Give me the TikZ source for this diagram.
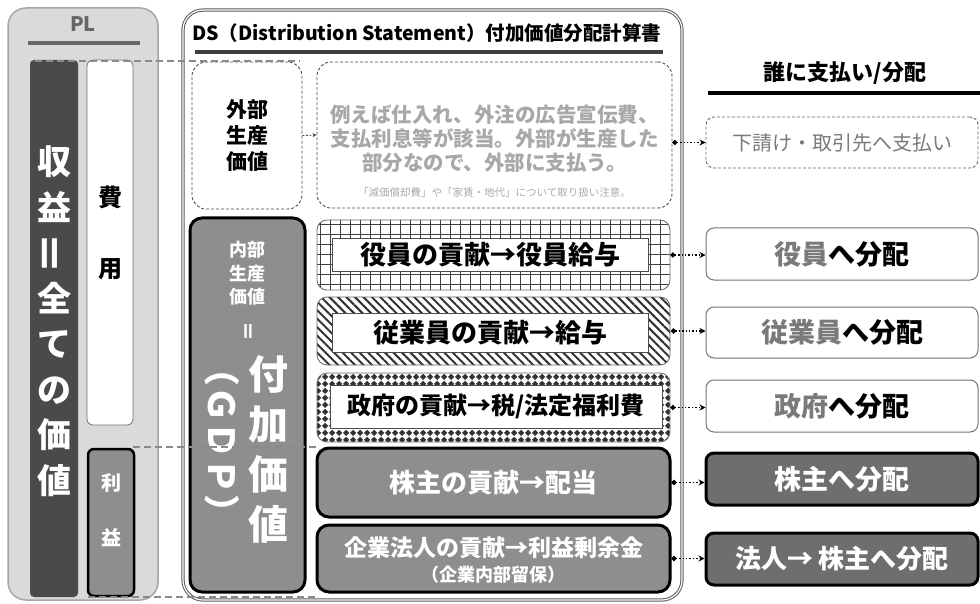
\documentclass[tikz,border=0pt]{standalone}
\usepackage{fontspec}
\setmainfont{Noto Sans CJK JP}
\usetikzlibrary{patterns.meta,arrows.meta,calc}
\definecolor{dkbar}{HTML}{4A4A4A}
\definecolor{plfill}{HTML}{DADADA}
\definecolor{plline}{HTML}{A6A6A6}
\definecolor{midgray}{HTML}{8E8E8E}
\definecolor{dkbox}{HTML}{6E6E6E}
\definecolor{lighttext}{HTML}{A8A8A8}
\definecolor{graytext}{HTML}{7A7A7A}
\definecolor{dashgray}{HTML}{8A8A8A}
\tikzdeclarepattern{name=diamondgrid, type=uncolored,
  bounding box={(0pt,0pt) and (7pt,7pt)}, tile size={(7pt,7pt)},
  code={\fill (3.5pt,0pt) -- (7pt,3.5pt) -- (3.5pt,7pt) -- (0pt,3.5pt) -- cycle;}}
\newcommand{\fsz}[2]{\fontsize{#1}{#2}\selectfont}
\begin{document}
\begin{tikzpicture}[x=1pt,y=-1pt,
  every node/.style={inner sep=0pt},
  plbox/.style={draw=plline, fill=plfill, line width=1.5pt, rounded corners=18pt},
  darkbar/.style={fill=dkbar, rounded corners=4pt},
  whitebar/.style={draw=black!55, fill=white, line width=0.8pt, rounded corners=6pt},
  profitbox/.style={draw=black, fill=midgray, line width=2.5pt, rounded corners=6pt},
  dsbox/.style={draw=black!65, double=white, double distance=1.2pt, line width=1pt, rounded corners=20pt},
  dashbox/.style={draw=black!70, dash pattern=on 3pt off 2pt, line width=0.9pt, rounded corners=14pt},
  gridbox/.style={draw=black!60, line width=0.8pt, rounded corners=10pt,
    pattern={Hatch[angle=0,distance=10pt,line width=0.9pt]}, pattern color=black!75},
  stripebox/.style={draw=black!60, line width=0.8pt, rounded corners=10pt,
    pattern={Lines[angle=-45,distance=6pt,line width=2pt]}, pattern color=black!80},
  diambox/.style={draw=black!60, line width=0.8pt, rounded corners=10pt,
    pattern=diamondgrid, pattern color=black!80},
  innerbox/.style={draw=black!70, fill=white, line width=0.8pt},
  graybox/.style={draw=black, fill=midgray, line width=3pt, rounded corners=12pt},
  rightbox/.style={draw=black!55, fill=white, line width=1pt, rounded corners=8pt},
  darkright/.style={draw=black, fill=dkbox, line width=3pt, rounded corners=8pt},
  dashright/.style={draw=black!60, dash pattern=on 3pt off 2pt, line width=0.9pt, rounded corners=8pt},
  connline/.style={draw=dashgray, line width=2.5pt, dash pattern=on 7pt off 4pt},
  dotarrow/.style={draw=black, dotted, line width=1.4pt, {Circle[length=5pt]}-{Stealth[open,length=6pt,width=6pt]}}
]
\useasboundingbox (0,0) rectangle (980,604);

% ---------------- PL ----------------
\node[plbox, minimum width=150pt, minimum height=592pt] (pl) at (83,304) {};
\node[font=\fsz{20}{20}\bfseries, text=black!60] (pltitle) at (83,24) {PL};
\coordinate (pll) at (28,43); \coordinate (plr) at (140,43);
\draw[black!60, line width=3.5pt] (pll) -- (plr);
\node[darkbar, minimum width=48pt, minimum height=537pt] (bar) at (54,328.5) {};
\node[text=white, font=\fsz{34}{45.5}\bfseries, align=center] (bartxt) at (54,321)
  {収\\益\\{\fsz{42}{45.5}\rotatebox[origin=c]{90}{＝}}\\全\\て\\の\\価\\値};
\node[whitebar, minimum width=46pt, minimum height=365pt] (hiyo) at (110,242.5) {};
\node[font=\fsz{24}{71}\bfseries, align=center] (hiyotxt) at (110,232.5) {費\\用};
\node[profitbox, minimum width=46pt, minimum height=147pt] (rieki) at (111,522.5) {};
\node[text=white, font=\fsz{20}{55}\bfseries, align=center] (riekitxt) at (111,510.5) {利\\益};

% ---------------- DS ----------------
\node[dsbox, minimum width=499pt, minimum height=590pt] (ds) at (432.5,305) {};
\node[anchor=west, font=\fsz{19.5}{20}\bfseries] (dstitle) at (192,33)
  {DS（Distribution Statement）付加価値分配計算書};
\coordinate (dsl) at (195,52); \coordinate (dsr) at (663,52);
\draw[black!75, line width=3.5pt] (dsl) -- (dsr);

\node[dashbox, minimum width=110pt, minimum height=147pt] (gaibu) at (247,135.5) {};
\node[font=\fsz{21}{26}\bfseries, align=center] (gaibutxt) at (247,136) {外部\\生産\\価値};
\node[dashbox, minimum width=355pt, minimum height=146pt] (desc) at (494.5,135) {};
\node[font=\fsz{20.5}{24}\bfseries, text=lighttext, align=center] (desctxt) at (494.5,139)
  {例えば仕入れ、外注の広告宣伝費、\\支払利息等が該当。外部が生産した\\部分なので、外部に支払う。};
\node[font=\fsz{10.5}{10.5}, text=lighttext] (desnote) at (494.5,193)
  {「減価償却費」や「家賃・地代」について取り扱い注意。};
\draw[black!70, dash pattern=on 2pt off 1.5pt, line width=0.9pt, -{Stealth[length=4pt,width=4pt]}] (gaibu.east) -- (desc.west);

\node[graybox, minimum width=115pt, minimum height=374pt] (naibu) at (247.5,405) {};
\node[text=white, font=\fsz{18}{23.5}\bfseries, align=center] (naibutxt) at (247,273.5) {内部\\生産\\価値};
\node[text=white, font=\fsz{20}{20}\bfseries, rotate=-90] (naibueq) at (246,331) {＝};
\node[text=white, font=\fsz{36}{36}\bfseries, rotate=-90] (gdp) at (222,440) {（ＧＤＰ）};
\node[text=white, font=\fsz{40}{50}\bfseries, align=center] (fuka) at (268,449) {付\\加\\価\\値};

\node[gridbox, minimum width=353pt, minimum height=70pt] (yakuin) at (493.5,255) {};
\node[innerbox, minimum width=316pt, minimum height=33pt, font=\fsz{26}{26}\bfseries] (yakuintxt) at (490,254.5) {役員の貢献→役員給与};
\node[stripebox, minimum width=353pt, minimum height=68pt] (jugyo) at (493.5,331) {};
\node[innerbox, minimum width=316pt, minimum height=39pt, font=\fsz{26}{26}\bfseries] (jugyotxt) at (490,332.5) {従業員の貢献→給与};
\node[diambox, minimum width=353pt, minimum height=69pt] (seifu) at (493.5,407.5) {};
\node[innerbox, minimum width=332pt, minimum height=43pt, font=\fsz{24}{24}\bfseries] (seifutxt) at (496,406.5) {政府の貢献→税/法定福利費};
\node[graybox, minimum width=353pt, minimum height=69pt, text=white, font=\fsz{26}{26}\bfseries] (kabu) at (493.5,482.5) {株主の貢献→配当};
\node[graybox, minimum width=353pt, minimum height=67pt] (kigyo) at (493.5,558.5) {};
\node[text=white, font=\fsz{23}{25}\bfseries, align=center] (kigyotxt) at (493.5,560)
  {企業法人の貢献→利益剰余金\\{\fsz{18}{25}（企業内部留保）}};

% ---------------- right column ----------------
\node[font=\fsz{22}{22}\bfseries] (whohead) at (845,73) {誰に支払い/分配};
\coordinate (whl) at (708,93); \coordinate (whr) at (980,93);
\draw[black, line width=3.5pt] (whl) -- (whr);
\node[dashright, minimum width=272pt, minimum height=51pt, font=\fsz{20}{20}, text=graytext] (shitauke) at (842,142.5) {下請け・取引先へ支払い};
\node[rightbox, minimum width=272pt, minimum height=52pt, font=\fsz{27}{27}\bfseries] (yakuinR) at (842,254) {\textcolor{graytext}{役員}へ分配};
\node[rightbox, minimum width=272pt, minimum height=51pt, font=\fsz{27}{27}\bfseries] (jugyoR) at (842,332.5) {\textcolor{graytext}{従業員}へ分配};
\node[rightbox, minimum width=272pt, minimum height=52pt, font=\fsz{27}{27}\bfseries] (seifuR) at (842,406) {\textcolor{graytext}{政府}へ分配};
\node[darkright, minimum width=272pt, minimum height=52pt, font=\fsz{27}{27}\bfseries, text=white] (kabuR) at (842,479) {株主へ分配};
\node[darkright, minimum width=272pt, minimum height=52pt, font=\fsz{26}{26}\bfseries, text=white] (hojinR) at (842,559) {法人→ 株主へ分配};

% ---------------- arrows ----------------
\draw[dotarrow] (desc.east |- shitauke.west) -- (shitauke.west);
\draw[dotarrow] (yakuin.east) -- (yakuin.east -| yakuinR.west);
\draw[dotarrow] (jugyo.east) -- (jugyo.east -| jugyoR.west);
\draw[dotarrow] (seifu.east) -- (seifu.east -| seifuR.west);
\draw[dotarrow] (kabu.east) -- (kabu.east -| kabuR.west);
\draw[dotarrow] (kigyo.east) -- (kigyo.east -| hojinR.west);

% ---------------- dashed guide lines ----------------
\coordinate (t1) at (35,61); \coordinate (t2) at (300,61);
\coordinate (m1) at (133,447); \coordinate (m2) at (318,447);
\coordinate (b1) at (88,597); \coordinate (b2) at (318,597);
\draw[connline] (t1) -- (t2);
\draw[connline] (m1) -- (m2);
\draw[connline] (b1) -- (b2);
\end{tikzpicture}
\end{document}
